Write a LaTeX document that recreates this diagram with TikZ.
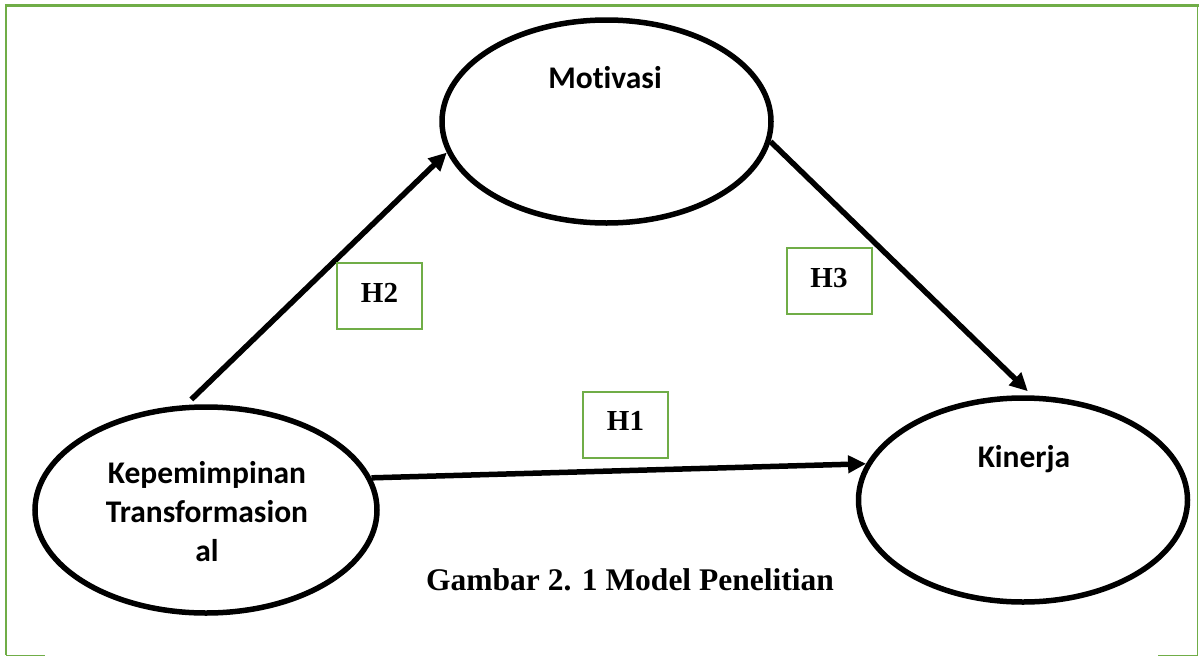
\documentclass[tikz,border=0pt]{standalone}
\usepackage{fontspec}
\setmainfont{Liberation Serif}
\newfontfamily\calib[Ligatures=NoCommon]{Carlito}
\usetikzlibrary{shapes.geometric,arrows.meta}
\definecolor{framegreen}{HTML}{70AD47}
\tikzset{
  varell/.style={ellipse, draw=black, line width=5.5pt, inner sep=0pt},
  vartext/.style={font=\calib\bfseries\fontsize{31.5}{39}\selectfont, inner sep=0pt, align=center},
  hbox/.style={draw=framegreen, line width=2pt, minimum width=85pt, minimum height=66pt,
    inner sep=0pt, text height=20pt, text depth=8pt,
    font=\bfseries\fontsize{29}{34}\selectfont},
  conn/.style={line width=5.5pt, -{Triangle[length=18pt,width=17pt]}},
  frameline/.style={draw=framegreen}
}
\begin{document}
\begin{tikzpicture}[x=1pt,y=-1pt]
\useasboundingbox (0,0) rectangle (1199,656);
% page frame
\draw[frameline, line width=2.5pt] (4.8,5.5) -- (1199,5.5);
\draw[frameline, line width=2.5pt] (6,4.3) -- (6,655);
\draw[frameline, line width=1.2pt] (1197.6,6) -- (1197.6,655.4);
\draw[frameline, line width=1.2pt] (6,655.4) -- (45,655.4);
\draw[frameline, line width=1.2pt] (1158,655.4) -- (1198.2,655.4);
% ellipses
\node[varell, minimum width=342pt, minimum height=206pt] (kep) at (206,510) {};
\node[varell, minimum width=329pt, minimum height=203pt] (mot) at (606.5,121.5) {};
\node[varell, minimum width=329pt, minimum height=204pt] (kin) at (1023,500) {};
% texts
\node[vartext] (kept) at (207,512) {Kepemimpinan\\Transformasion\\al};
\node[vartext, anchor=base] (mott) at (605,88) {Motivasi};
\node[vartext, anchor=base] (kint) at (1024,467) {Kinerja};
% connectors
\draw[conn, shorten <=8pt] (kep.101) -- (mot.191.9);
\draw[conn, shorten >=6pt] (mot.353.5) -- (kin.85);
\draw[conn] (kep.11.4) -- (kin.167.8);
% hypothesis boxes
\node[hbox] (h2) at (379.5,296) {H2};
\node[hbox] (h3) at (829,281) {H3};
\node[hbox] (h1) at (625.5,424.5) {H1};
% caption
\node[font=\bfseries\fontsize{31.5}{36}\selectfont, anchor=base, inner sep=0pt] (cap) at (630,590) {Gambar 2. 1 Model Penelitian};
\end{tikzpicture}
\end{document}
